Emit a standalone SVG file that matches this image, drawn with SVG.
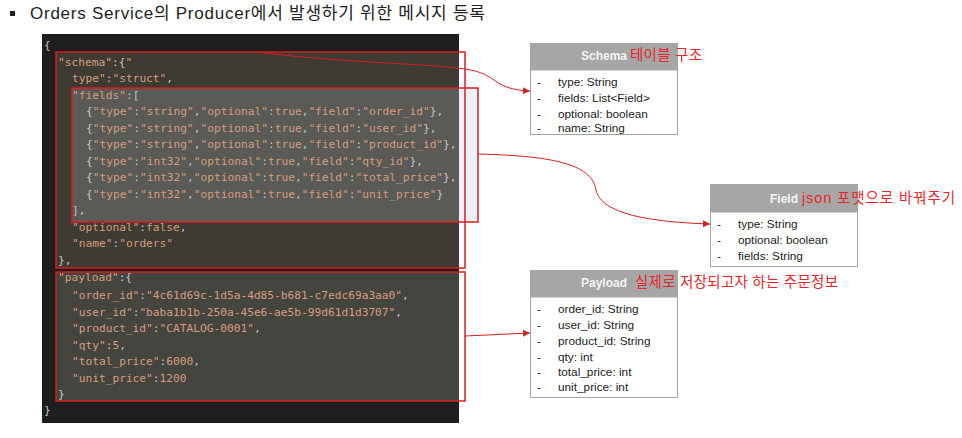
<svg xmlns="http://www.w3.org/2000/svg" width="962" height="438" viewBox="0 0 962 438">
<defs>
<style>
.code{font-family:"DejaVu Sans Mono","Liberation Mono",monospace;font-size:11.2px;fill:#d59c7e}
.p{fill:#c4c4c4}
.red{fill:none;stroke:#d61f1f;stroke-width:1.5}
.hdr{fill:#a6a6a6}
.body{fill:#ffffff;stroke:#a6a6a6;stroke-width:1}
.ttl{font-family:"Liberation Sans",Arial,sans-serif;font-size:12px;font-weight:bold;fill:#f4f4f4;text-anchor:middle}
.ann{font-family:"Liberation Sans","Noto Sans CJK KR",sans-serif;font-size:14.5px;fill:#e8262a}
.row{font-family:"Liberation Sans",Arial,sans-serif;font-size:11.8px;fill:#222}
.con{fill:none;stroke:#d61f1f;stroke-width:1}
</style>
<marker id="ah" viewBox="0 0 10 10" refX="10" refY="5" markerWidth="7" markerHeight="7" orient="auto" markerUnits="userSpaceOnUse">
<path d="M0,0 L10,5 L0,10 z" fill="#d61f1f"/>
</marker>
</defs>
<rect width="962" height="438" fill="#ffffff"/>

<g id="title">
<rect x="10" y="11" width="5" height="5" fill="#222"/>
<text x="30" y="19" font-family="'Liberation Sans','Noto Sans CJK KR',sans-serif" font-size="17" fill="#222" textLength="455" lengthAdjust="spacing">Orders Service의 Producer에서 발생하기 위한 메시지 등록</text>
</g>

<g id="code-panel">
<rect x="42" y="34" width="417" height="389" fill="#1e1e1e"/>
<rect x="56" y="52" width="403" height="216" fill="#3e3b33"/>
<rect x="459" y="88" width="19" height="134" fill="#edf2f8"/>
<rect x="72" y="88" width="387" height="134" fill="#5a5a57"/>
<rect x="56" y="272" width="403" height="129" fill="#45453f"/>
<rect id="schema-block" class="red" x="56" y="52" width="409" height="216"/>
<rect id="fields-block" class="red" x="72" y="88" width="406" height="134"/>
<rect id="payload-block" class="red" x="56" y="272" width="409" height="129"/>

<text class="code" x="44" y="49"><tspan class="p">{</tspan></text>
<text class="code" x="58" y="65.5">"schema"<tspan class="p">:{</tspan>"</text>
<text class="code" x="72" y="82">type"<tspan class="p">:</tspan>"struct"<tspan class="p">,</tspan></text>
<text class="code" x="72" y="98.5">"fields"<tspan class="p">:[</tspan></text>
<text class="code" x="86" y="115"><tspan class="p">{</tspan>"type"<tspan class="p">:</tspan>"string"<tspan class="p">,</tspan>"optional"<tspan class="p">:</tspan>true<tspan class="p">,</tspan>"field"<tspan class="p">:</tspan>"order_id"<tspan class="p">},</tspan></text>
<text class="code" x="86" y="131.5"><tspan class="p">{</tspan>"type"<tspan class="p">:</tspan>"string"<tspan class="p">,</tspan>"optional"<tspan class="p">:</tspan>true<tspan class="p">,</tspan>"field"<tspan class="p">:</tspan>"user_id"<tspan class="p">},</tspan></text>
<text class="code" x="86" y="148"><tspan class="p">{</tspan>"type"<tspan class="p">:</tspan>"string"<tspan class="p">,</tspan>"optional"<tspan class="p">:</tspan>true<tspan class="p">,</tspan>"field"<tspan class="p">:</tspan>"product_id"<tspan class="p">},</tspan></text>
<text class="code" x="86" y="164.5"><tspan class="p">{</tspan>"type"<tspan class="p">:</tspan>"int32"<tspan class="p">,</tspan>"optional"<tspan class="p">:</tspan>true<tspan class="p">,</tspan>"field"<tspan class="p">:</tspan>"qty_id"<tspan class="p">},</tspan></text>
<text class="code" x="86" y="181"><tspan class="p">{</tspan>"type"<tspan class="p">:</tspan>"int32"<tspan class="p">,</tspan>"optional"<tspan class="p">:</tspan>true<tspan class="p">,</tspan>"field"<tspan class="p">:</tspan>"total_price"<tspan class="p">},</tspan></text>
<text class="code" x="86" y="197.5"><tspan class="p">{</tspan>"type"<tspan class="p">:</tspan>"int32"<tspan class="p">,</tspan>"optional"<tspan class="p">:</tspan>true<tspan class="p">,</tspan>"field"<tspan class="p">:</tspan>"unit_price"<tspan class="p">}</tspan></text>
<text class="code" x="72" y="214"><tspan class="p">],</tspan></text>
<text class="code" x="72" y="230.5">"optional"<tspan class="p">:</tspan>false<tspan class="p">,</tspan></text>
<text class="code" x="72" y="247">"name"<tspan class="p">:</tspan>"orders"</text>
<text class="code" x="58" y="263.5"><tspan class="p">},</tspan></text>
<text class="code" x="58" y="281">"payload"<tspan class="p">:{</tspan></text>
<text class="code" x="72" y="299">"order_id"<tspan class="p">:</tspan>"4c61d69c-1d5a-4d85-b681-c7edc69a3aa0"<tspan class="p">,</tspan></text>
<text class="code" x="72" y="315.5">"user_id"<tspan class="p">:</tspan>"baba1b1b-250a-45e6-ae5b-99d61d1d3707"<tspan class="p">,</tspan></text>
<text class="code" x="72" y="332">"product_id"<tspan class="p">:</tspan>"CATALOG-0001"<tspan class="p">,</tspan></text>
<text class="code" x="72" y="348.5">"qty"<tspan class="p">:</tspan>5<tspan class="p">,</tspan></text>
<text class="code" x="72" y="365">"total_price"<tspan class="p">:</tspan>6000<tspan class="p">,</tspan></text>
<text class="code" x="72" y="381.5">"unit_price"<tspan class="p">:</tspan>1200</text>
<text class="code" x="58" y="398"><tspan class="p">}</tspan></text>
<text class="code" x="44" y="414"><tspan class="p">}</tspan></text>
</g>

<g id="connectors">
<path class="con" d="M258,52 C330,62 420,63 465,69 C500,74 490,89 530,91" marker-end="url(#ah)"/>
<path class="con" d="M478,154 C560,156 592,166 596,190 C601,214 650,222 710,224" marker-end="url(#ah)"/>
<path class="con" d="M465,336 L530,333" marker-end="url(#ah)"/>
</g>

<g id="schema">
<rect class="body" x="530.5" y="43.5" width="147" height="91"/>
<rect class="hdr" x="530.5" y="43.5" width="147" height="27"/>
<text class="ttl" x="604" y="59.5">Schema</text>
<text class="ann" x="630" y="60" textLength="72" lengthAdjust="spacing">테이블 구조</text>
<text class="row" x="537" y="86">-</text><text class="row" x="558" y="86">type: String</text>
<text class="row" x="537" y="102">-</text><text class="row" x="558" y="102">fields: List&lt;Field&gt;</text>
<text class="row" x="537" y="118">-</text><text class="row" x="558" y="118">optional: boolean</text>
<text class="row" x="537" y="132">-</text><text class="row" x="558" y="132">name: String</text>
</g>

<g id="field">
<rect class="body" x="710.5" y="184.5" width="147" height="82"/>
<rect class="hdr" x="710.5" y="184.5" width="147" height="28"/>
<text class="ttl" x="784" y="202.5">Field</text>
<text class="ann" x="802" y="203" textLength="153" lengthAdjust="spacing">json 포맷으로 바꿔주기</text>
<text class="row" x="717" y="228">-</text><text class="row" x="738" y="228">type: String</text>
<text class="row" x="717" y="243.5">-</text><text class="row" x="738" y="243.5">optional: boolean</text>
<text class="row" x="717" y="260">-</text><text class="row" x="738" y="260">fields: String</text>
</g>

<g id="payload">
<rect class="body" x="530.5" y="270.5" width="147" height="127"/>
<rect class="hdr" x="530.5" y="270.5" width="147" height="27"/>
<text class="ttl" x="604" y="286.5">Payload</text>
<text class="ann" x="635" y="287" textLength="203" lengthAdjust="spacing">실제로 저장되고자 하는 주문정보</text>
<text class="row" x="537" y="313">-</text><text class="row" x="558" y="313">order_id: String</text>
<text class="row" x="537" y="329">-</text><text class="row" x="558" y="329">user_id: String</text>
<text class="row" x="537" y="345">-</text><text class="row" x="558" y="345">product_id: String</text>
<text class="row" x="537" y="361">-</text><text class="row" x="558" y="361">qty: int</text>
<text class="row" x="537" y="376">-</text><text class="row" x="558" y="376">total_price: int</text>
<text class="row" x="537" y="391">-</text><text class="row" x="558" y="391">unit_price: int</text>
</g>
</svg>
